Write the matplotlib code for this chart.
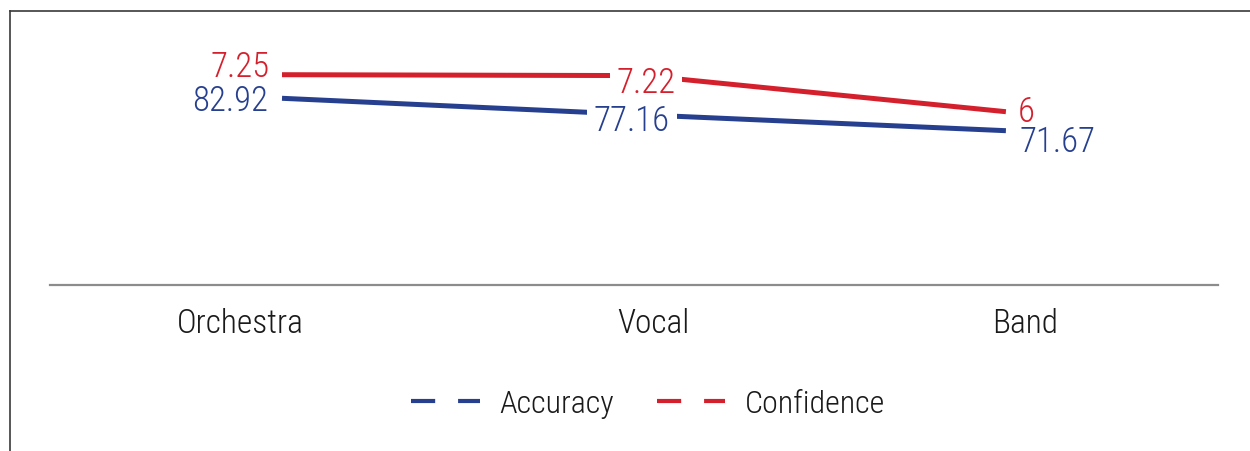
import matplotlib
matplotlib.use("Agg")
import matplotlib.pyplot as plt
from matplotlib.lines import Line2D
from matplotlib.transforms import ScaledTranslation

categories = ["Orchestra", "Vocal", "Band"]
accuracy = [82.92, 77.16, 71.67]
confidence = [7.25, 7.22, 6]
series_names = ["Accuracy", "Confidence"]

BLUE = "#263f8f"
RED = "#d4202c"
TEXT = "#1a1a1a"

plt.rcParams["font.family"] = ["Roboto Condensed", "DejaVu Sans"]
plt.rcParams["font.weight"] = 300

W, H = 1250, 452
fig = plt.figure(figsize=(W / 100, H / 100), dpi=100)

def px_box(x0, y0, x1, y1):
    return [x0 / W, 1 - y1 / H, (x1 - x0) / W, (y1 - y0) / H]

ax = fig.add_axes(px_box(50, 20, 1218, 286))
ax2 = ax.twinx()

x = list(range(len(categories)))
ax.set_xlim(-0.641, 2.586)
ax.set_ylim(18.09, 110.45)
ax2.set_ylim(0.145, 9.132)

ax.plot(x, accuracy, color=BLUE, lw=3.6, solid_capstyle="butt", zorder=2)
ax2.plot(x, confidence, color=RED, lw=3.6, solid_capstyle="butt", zorder=2)

for a in (ax, ax2):
    for s in ("top", "left", "right"):
        a.spines[s].set_visible(False)
    a.set_yticks([])
ax2.spines["bottom"].set_visible(False)
ax.spines["bottom"].set_color("#8c8c8c")
ax.spines["bottom"].set_linewidth(1.6)

ax.set_xticks(x)
ax.set_xticklabels(categories, fontsize=24, color=TEXT)
ax.tick_params(axis="x", length=0, pad=15.5)
shifts = [-42, 9, 19]
for lbl, dx in zip(ax.get_xticklabels(), shifts):
    lbl.set_transform(lbl.get_transform() + ScaledTranslation(dx / 100, 0, fig.dpi_scale_trans))

box = dict(boxstyle="square,pad=0.2", fc="white", ec="none")

# value labels: offset in px from the point, alignment, whether a white box masks the line
acc_pos = [((-14, -2), "right", False), ((-12, -5), "center", True), ((14, -11), "left", False)]
conf_pos = [((-12, 8), "right", False), ((2, -7), "center", True), ((12, 0), "left", False)]

def label(axis, xs, vals, spec, color):
    for xi, v, ((dx, dy), ha, masked) in zip(xs, vals, spec):
        axis.annotate(f"{v:g}", (xi, v), xytext=(dx * 0.72, dy * 0.72), textcoords="offset points",
                      ha=ha, va="center", fontsize=25, color=color,
                      bbox=box if masked else None, zorder=5)

label(ax, x, accuracy, acc_pos, BLUE)
label(ax2, x, confidence, conf_pos, RED)

handles = [Line2D([], [], color=BLUE, lw=3.0, linestyle=(0, (5.8, 5.5))),
           Line2D([], [], color=RED, lw=3.0, linestyle=(0, (5.8, 5.5)))]
fig.legend(handles, series_names, loc="center", bbox_to_anchor=(648 / W, 1 - 405 / H),
           ncol=2, frameon=False, fontsize=23, handlelength=2.15, handletextpad=0.6,
           columnspacing=1.35, labelcolor=TEXT)

# outer frame (top and left edges)
fig.add_artist(Line2D([9.7 / W, 1], [1 - 12.3 / H, 1 - 12.3 / H], transform=fig.transFigure,
                      color="#3a3a3a", lw=1.2))
fig.add_artist(Line2D([9.7 / W, 9.7 / W], [0, 1 - 12.3 / H], transform=fig.transFigure,
                      color="#3a3a3a", lw=1.2))

fig.savefig("out.png", dpi=100)
